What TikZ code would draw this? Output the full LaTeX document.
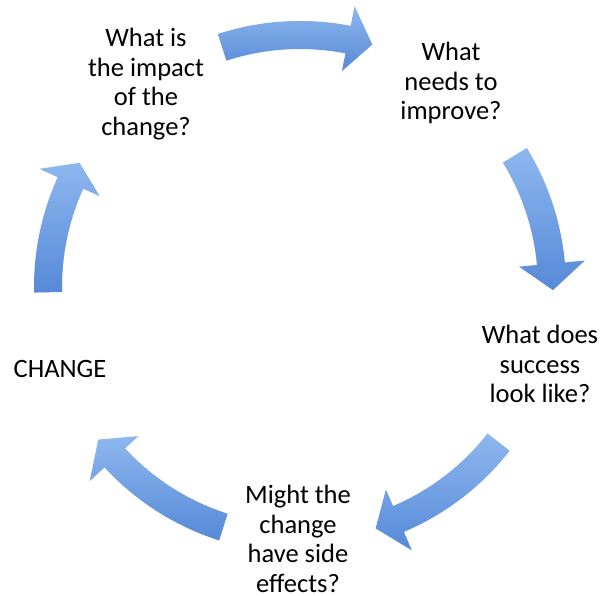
\documentclass[tikz,border=0pt]{standalone}
\usepackage{fontspec}
\setmainfont{Carlito}
\usetikzlibrary{calc}
\definecolor{arrowlight}{RGB}{142,183,238}
\definecolor{arrowdark}{RGB}{86,137,216}
% Outline of one curved cycle arrow around (C):
% #1 tail angle, #2 angle of the head base, #3 angle of the tip
\newcommand\cyclepath[3]{($(C)+(#1:238)$) arc[start angle=#1, end angle=#2, radius=238]
  -- ($(C)+(#2:220)$) -- ($(C)+(#3:253)$) -- ($(C)+(#2:286)$) -- ($(C)+(#2:266)$)
  arc[start angle=#2, end angle=#1, radius=266] -- cycle}
\newcommand\cyclearrow[3]{%
  \fill[arrowshadow, shift={(1.2,2)}] \cyclepath{#1}{#2}{#3};
  \path[arrowbody] \cyclepath{#1}{#2}{#3};}
\begin{document}
\begin{tikzpicture}[x=1pt,y=-1pt,
  lbl/.style={font=\fontsize{26.5}{29.6}\selectfont, align=center, inner sep=0pt, anchor=north, text=black},
  arrowbody/.style={top color=arrowlight, bottom color=arrowdark, draw=none},
  arrowshadow/.style={fill=black, opacity=0.08}]
\useasboundingbox[fill=white] (0,0) rectangle (606,596);
\coordinate (C) at (300,287);

% the five arrows of the cycle
\cyclearrow{252}{281}{286.6}
\cyclearrow{328.5}{354.7}{360.7}
\cyclearrow{38}{67}{72.6}
\cyclearrow{107.7}{137.3}{142.9}
\cyclearrow{178.8}{204.4}{209.4}

% the questions between the arrows
\node[lbl] (impact)  at (146,28)  {What is\\the impact\\of the\\change?};
\node[lbl] (improve) at (451,42)  {What\\needs to\\improve?};
\node[lbl] (success) at (540,325) {What does\\success\\look like?};
\node[lbl] (effects) at (298,485) {Might the\\change\\have side\\effects?};
\node[lbl] (change)  at (60,360)  {CHANGE};
\end{tikzpicture}
\end{document}
